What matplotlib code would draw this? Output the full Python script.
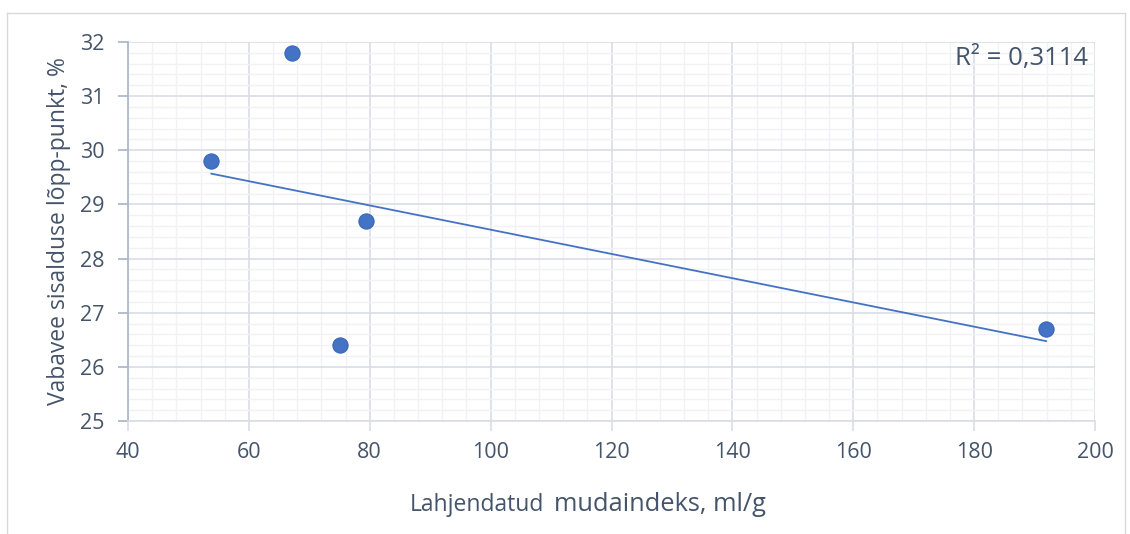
import numpy as np
import matplotlib.pyplot as plt
from matplotlib.ticker import MultipleLocator
from matplotlib.lines import Line2D

# Mudaindeks vs vabavee sisaldus
mudaindeks = [53.8, 67.2, 79.3, 75.1, 191.9]
vabavesi = [29.8, 31.8, 28.7, 26.4, 26.7]

x_ticks = [40, 60, 80, 100, 120, 140, 160, 180, 200]
y_ticks = [25, 26, 27, 28, 29, 30, 31, 32]

TEXT = "#44546A"
AXIS = "#ADB9CA"
GRID = "#D9DDE4"
MINOR = "#F1F2F5"
BLUE = "#4472C4"

plt.rcParams["font.family"] = ["Open Sans", "DejaVu Sans"]

W, H = 1130, 534
fig = plt.figure(figsize=(W / 100, H / 100), dpi=100)
ax = fig.add_axes([128 / W, 1 - 421 / H, (1095 - 128) / W, (421 - 42) / H])

# linear trendline
x = np.array(mudaindeks)
y = np.array(vabavesi)
k, b = np.polyfit(x, y, 1)
fit = k * x + b
r2 = 1 - np.sum((y - fit) ** 2) / np.sum((y - y.mean()) ** 2)
xs = np.array([x.min(), x.max()])
ax.plot(xs, k * xs + b, color=BLUE, linewidth=1.3, zorder=3)

ax.scatter(x, y, s=120, color=BLUE, edgecolors="#3A68B8", linewidths=0.8, zorder=4)

ax.set_xlim(x_ticks[0], x_ticks[-1])
ax.set_ylim(y_ticks[0], y_ticks[-1])
ax.set_xticks(x_ticks)
ax.set_yticks(y_ticks)
ax.xaxis.set_minor_locator(MultipleLocator(4))
ax.yaxis.set_minor_locator(MultipleLocator(0.2))

ax.grid(which="major", color=GRID, linewidth=1.2, zorder=0)
ax.grid(which="minor", color=MINOR, linewidth=1.0, zorder=0)
ax.set_axisbelow(True)

for side in ["top", "right"]:
    ax.spines[side].set_visible(False)
ax.spines["left"].set_color(AXIS)
ax.spines["left"].set_linewidth(1.3)
ax.spines["bottom"].set_color(GRID)
ax.spines["bottom"].set_linewidth(1.2)

ax.tick_params(axis="x", which="major", length=7, width=1.2, color=GRID,
               labelsize=15.5, labelcolor=TEXT, pad=8)
ax.tick_params(axis="y", which="major", length=7, width=1.3, color=AXIS,
               labelsize=15.5, labelcolor=TEXT, pad=10)
ax.tick_params(which="minor", length=0)

fig.text(59 / W, 1 - 231 / H, "Vabavee sisalduse lõpp-punkt, %", fontsize=16.5,
         color=TEXT, rotation=90, ha="center", va="center")

# x-axis title in two sizes
fig.text(544 / W, 1 - 511 / H, "Lahjendatud", fontsize=16.5, color=TEXT,
         ha="right", va="baseline")
fig.text(554 / W, 1 - 511 / H, "mudaindeks, ml/g", fontsize=18.3, color=TEXT,
         ha="left", va="baseline")

fig.text(1088 / W, 1 - 65 / H, "R² = " + f"{r2:.4f}".replace(".", ","),
         fontsize=18.5, color=TEXT, ha="right", va="baseline")

# chart area border
for xx, yy in [([7, 7], [H, 13]), ([7, 1125], [13, 13]), ([1125, 1125], [13, H])]:
    fig.add_artist(Line2D([v / W for v in xx], [1 - v / H for v in yy],
                          color="#D9D9D9", linewidth=1.0))

fig.savefig("out.png", dpi=100)
